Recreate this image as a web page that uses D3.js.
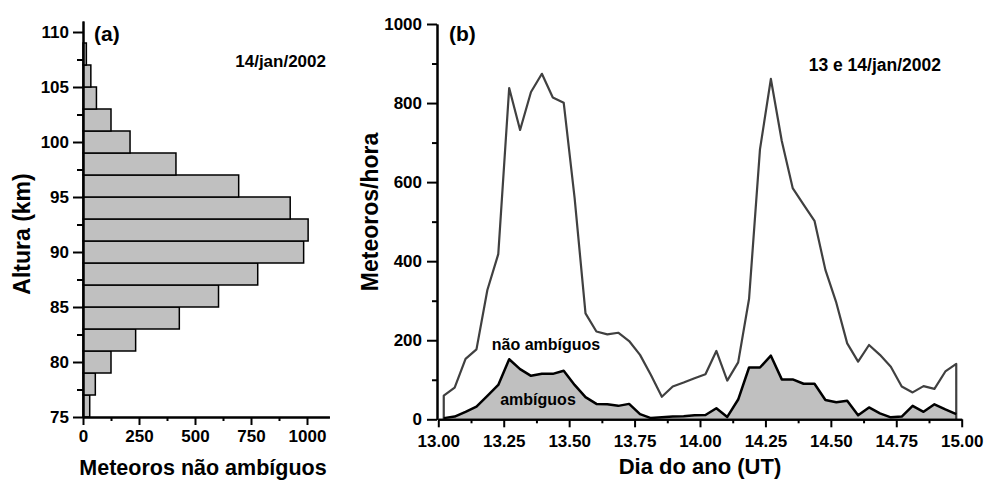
<!DOCTYPE html>
<html>
  <head>
    <meta charset="utf-8">
    <title>Meteoros</title>
    <script src="https://d3js.org/d3.v7.min.js"></script>
    <style>
      body { margin: 0; background: #fff; }
      svg text { font-family: "Liberation Sans", Arial, sans-serif; font-weight: bold; fill: #000; }
    </style>
  </head>
  <body>
    <div id="chart"></div>
    <script>
      // (a) altitude histogram: bin lower edges (km) and counts
      const altLow = [75, 77, 79, 81, 83, 85, 87, 89, 91, 93, 95, 97, 99, 101, 103, 105, 107];
      const altCount = [30, 55, 125, 235, 430, 605, 780, 985, 1005, 925, 695, 415, 210, 125, 60, 35, 15];
      const binWidth = 2;
      const altTicks = [75, 80, 85, 90, 95, 100, 105, 110];
      const countTicks = [0, 250, 500, 750, 1000];

      // (b) hourly rates, hour centres of 13 and 14 Jan
      const hourIndex = d3.range(48);
      const naoAmbiguos = [60, 80, 153, 177, 327, 418, 838, 732, 828, 874, 814, 801, 560, 268, 222, 215,
        219, 198, 163, 112, 57, 83, 93, 104, 114, 173, 98, 144, 305, 683, 861, 704,
        585, 543, 502, 378, 295, 192, 146, 188, 163, 133, 83, 68, 84, 77, 121, 140];
      const ambiguos = [3, 7, 19, 32, 59, 87, 152, 127, 110, 115, 115, 123, 87, 56, 39, 38,
        34, 39, 13, 3, 5, 7, 8, 10, 11, 28, 6, 50, 131, 131, 161, 101,
        101, 90, 90, 49, 43, 47, 10, 30, 15, 5, 7, 34, 19, 38, 25, 13];
      const dayTicks = [13.00, 13.25, 13.50, 13.75, 14.00, 14.25, 14.50, 14.75, 15.00];
      const rateTicks = [0, 200, 400, 600, 800, 1000];

      const svg = d3.select('#chart').append('svg')
        .attr('width', 986)
        .attr('height', 481);

      function styleAxis(g, size) {
        g.select('.domain').attr('stroke', '#000').attr('stroke-width', 2);
        g.selectAll('.tick line').attr('stroke', '#000').attr('stroke-width', 2);
        g.selectAll('.tick text').style('font-size', size + 'px');
      }

      // ---------- panel (a)
      const xa = d3.scaleLinear().domain([0, 1100]).range([83, 329.4]);
      const ya = d3.scaleLinear().domain([75, 111]).range([417, 21]);

      svg.append('g')
        .selectAll('rect')
        .data(altLow)
        .enter()
        .append('rect')
        .attr('x', xa(0))
        .attr('y', d => ya(d + binWidth))
        .attr('width', (d, i) => xa(altCount[i]) - xa(0))
        .attr('height', d => ya(d) - ya(d + binWidth))
        .attr('fill', '#c0c0c0')
        .attr('stroke', '#000')
        .attr('stroke-width', 1.5);

      // minor ticks
      svg.append('g')
        .attr('transform', 'translate(83,0)')
        .call(d3.axisLeft(ya).tickValues(d3.range(77.5, 111, 5)).tickSize(6).tickFormat('').tickSizeOuter(0))
        .call(g => styleAxis(g, 17));
      svg.append('g')
        .attr('transform', 'translate(0,417)')
        .call(d3.axisBottom(xa).tickValues([125, 375, 625, 875]).tickSize(4).tickFormat('').tickSizeOuter(0))
        .call(g => styleAxis(g, 17));

      svg.append('g')
        .attr('transform', 'translate(83,0)')
        .call(d3.axisLeft(ya).tickValues(altTicks).tickSize(10).tickPadding(4).tickSizeOuter(0))
        .call(g => styleAxis(g, 17));
      svg.append('g')
        .attr('transform', 'translate(0,417)')
        .call(d3.axisBottom(xa).tickValues(countTicks).tickSize(8).tickPadding(5)
          .tickFormat(d3.format('d')).tickSizeOuter(0))
        .call(g => styleAxis(g, 17));

      svg.append('text').attr('x', 94).attr('y', 41).style('font-size', '21px').text('(a)');
      svg.append('text').attr('x', 326).attr('y', 67).attr('text-anchor', 'end')
        .style('font-size', '17px').text('14/jan/2002');
      svg.append('text').attr('transform', 'translate(30,234) rotate(-90)')
        .attr('text-anchor', 'middle').style('font-size', '23px').text('Altura (km)');
      svg.append('text').attr('x', 203).attr('y', 475).attr('text-anchor', 'middle')
        .style('font-size', '21.5px').text('Meteoros não ambíguos');

      // ---------- panel (b)
      const xb = d3.scaleLinear().domain([13, 15]).range([438.3, 961.7]);
      const yb = d3.scaleLinear().domain([0, 1000]).range([419.3, 24]);
      const dayOf = i => 13 + (i + 0.5) / 24;

      svg.append('path')
        .datum(hourIndex)
        .attr('fill', '#c0c0c0')
        .attr('d', d3.area().x(i => xb(dayOf(i))).y0(yb(0)).y1(i => yb(ambiguos[i])));

      // grey line drops to the axis at both ends
      const greyPts = [[dayOf(0), 0]].concat(hourIndex.map(i => [dayOf(i), naoAmbiguos[i]]), [[dayOf(47), 0]]);
      svg.append('path')
        .datum(greyPts)
        .attr('fill', 'none')
        .attr('stroke', '#404040')
        .attr('stroke-width', 2.2)
        .attr('stroke-linejoin', 'round')
        .attr('d', d3.line().x(d => xb(d[0])).y(d => yb(d[1])));

      svg.append('path')
        .datum(hourIndex)
        .attr('fill', 'none')
        .attr('stroke', '#000')
        .attr('stroke-width', 2.5)
        .attr('stroke-linejoin', 'round')
        .attr('d', d3.line().x(i => xb(dayOf(i))).y(i => yb(ambiguos[i])));

      svg.append('g')
        .attr('transform', 'translate(437,0)')
        .call(d3.axisLeft(yb).tickValues(d3.range(100, 1000, 200)).tickSize(5).tickFormat('').tickSizeOuter(0))
        .call(g => styleAxis(g, 17));
      svg.append('g')
        .attr('transform', 'translate(0,419.3)')
        .call(d3.axisBottom(xb).tickValues(d3.range(13.125, 15, 0.25)).tickSize(4).tickFormat('').tickSizeOuter(0))
        .call(g => styleAxis(g, 17));

      svg.append('g')
        .attr('transform', 'translate(437,0)')
        .call(d3.axisLeft(yb).tickValues(rateTicks).tickSize(10).tickPadding(5)
          .tickFormat(d3.format('d')).tickSizeOuter(0))
        .call(g => styleAxis(g, 17));
      svg.append('g')
        .attr('transform', 'translate(0,419.3)')
        .call(d3.axisBottom(xb).tickValues(dayTicks).tickSize(8).tickPadding(8).tickFormat(d3.format('.2f')).tickSizeOuter(0))
        .call(g => styleAxis(g, 17));

      svg.append('text').attr('x', 449).attr('y', 41).style('font-size', '21px').text('(b)');
      svg.append('text').attr('x', 941).attr('y', 71).attr('text-anchor', 'end')
        .style('font-size', '17.5px').text('13 e 14/jan/2002');
      svg.append('text').attr('transform', 'translate(378,212) rotate(-90)')
        .attr('text-anchor', 'middle').style('font-size', '23px').text('Meteoros/hora');
      svg.append('text').attr('x', 700).attr('y', 474).attr('text-anchor', 'middle')
        .style('font-size', '22px').text('Dia do ano (UT)');

      svg.append('text').attr('x', 546).attr('y', 350).attr('text-anchor', 'middle')
        .style('font-size', '16px').text('não ambíguos');
      svg.append('text').attr('x', 538).attr('y', 405).attr('text-anchor', 'middle')
        .style('font-size', '16px').text('ambíguos');
    </script>
  </body>
</html>
